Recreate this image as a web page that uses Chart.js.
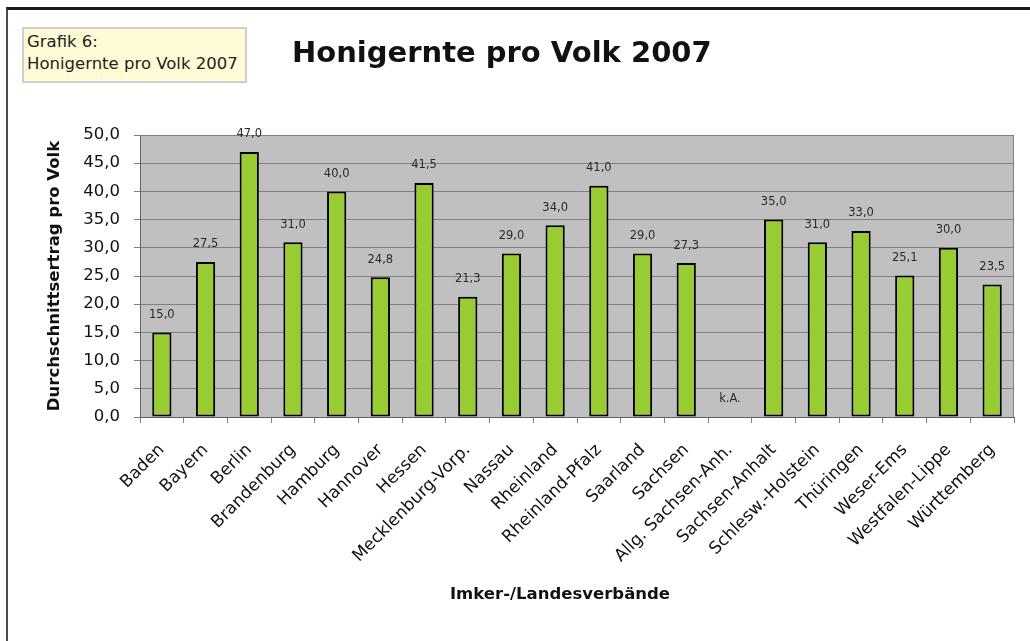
<!DOCTYPE html>
<html>
<head>
<meta charset="utf-8">
<script src="https://cdn.jsdelivr.net/npm/chart.js@4.4.1/dist/chart.umd.min.js"></script>
<style>
  html, body { margin: 0; padding: 0; background: #fff; }
  body { width: 1030px; height: 641px; position: relative; overflow: hidden; font-family: "DejaVu Sans", sans-serif; }
  #frame { position: absolute; left: 6px; top: 7px; right: -10px; bottom: -10px;
           border-top: 3px solid #1a1a1a; border-left: 2px solid #4a4a4a; }
  #chart { position: absolute; left: 0; top: 0; }
  #box { position: absolute; left: 22px; top: 27px; width: 218px; height: 50px;
         border: 2px solid #cfcfcf; background: #fffbd6; color: #222;
         font-size: 16.5px; line-height: 22px; padding: 2px 0 0 3px; white-space: nowrap; }
  #title { position: absolute; left: 292px; top: 38px; font-weight: bold; font-size: 29px;
           line-height: 29px; color: #111; white-space: nowrap; }
  #xtitle { position: absolute; left: 0; width: 1120px; top: 584px; text-align: center;
            font-weight: bold; font-size: 16.5px; line-height: 20px; color: #111; white-space: nowrap; }
</style>
</head>
<body>
<div id="frame"></div>
<canvas id="chart" width="1030" height="641"></canvas>
<div id="box">Grafik 6:<br>Honigernte pro Volk 2007</div>
<div id="title">Honigernte pro Volk 2007</div>
<div id="xtitle">Imker-/Landesverbände</div>
<script>
const categories = [
  'Baden', 'Bayern', 'Berlin', 'Brandenburg', 'Hamburg', 'Hannover', 'Hessen',
  'Mecklenburg-Vorp.', 'Nassau', 'Rheinland', 'Rheinland-Pfalz', 'Saarland', 'Sachsen',
  'Allg. Sachsen-Anh.', 'Sachsen-Anhalt', 'Schlesw.-Holstein', 'Thüringen', 'Weser-Ems',
  'Westfalen-Lippe', 'Württemberg'
];
const honeyPerColony = [15.0, 27.5, 47.0, 31.0, 40.0, 24.8, 41.5, 21.3, 29.0, 34.0,
                        41.0, 29.0, 27.3, null, 35.0, 31.0, 33.0, 25.1, 30.0, 23.5];
const yMin = 0, yMax = 50, yStep = 5;
const missingText = 'k.A.';
const yAxisTitle = 'Durchschnittsertrag pro Volk';

const FONT = '"DejaVu Sans", sans-serif';
const fmt = v => Number(v).toFixed(1).replace('.', ',');

const plotBackground = {
  id: 'plotBackground',
  beforeDraw(chart) {
    const { ctx, chartArea: a } = chart;
    ctx.save();
    ctx.fillStyle = '#c0c0c0';
    ctx.fillRect(a.left, a.top, a.right - a.left, a.bottom - a.top);
    ctx.restore();
  },
  beforeDatasetsDraw(chart) {
    const { ctx, chartArea: a } = chart;
    ctx.save();
    ctx.strokeStyle = '#808080';
    ctx.lineWidth = 1;
    ctx.beginPath();
    ctx.moveTo(a.right - 0.5, a.top);
    ctx.lineTo(a.right - 0.5, a.bottom);
    ctx.stroke();
    ctx.restore();
  }
};

const valueLabels = {
  id: 'valueLabels',
  afterDatasetsDraw(chart) {
    const { ctx } = chart;
    const xs = chart.scales.x, ys = chart.scales.y;
    const meta = chart.getDatasetMeta(0);
    ctx.save();
    ctx.font = '11.5px ' + FONT;
    ctx.fillStyle = '#2a2a2a';
    ctx.textAlign = 'center';
    ctx.textBaseline = 'middle';
    honeyPerColony.forEach((v, i) => {
      const x = xs.getPixelForValue(i);
      if (v === null) {
        ctx.fillText(missingText, x, ys.getPixelForValue(0) - 17.5);
      } else {
        const el = meta.data[i];
        ctx.fillText(fmt(v), x, el.y - 17.5);
      }
    });
    ctx.restore();
  }
};

new Chart(document.getElementById('chart'), {
  type: 'bar',
  data: {
    labels: categories,
    datasets: [{
      data: honeyPerColony,
      backgroundColor: '#99cc33',
      borderColor: '#000000',
      borderWidth: 2,
      borderSkipped: false,
      categoryPercentage: 1.0,
      barPercentage: 0.44
    }]
  },
  options: {
    responsive: false,
    animation: false,
    devicePixelRatio: 1,
    layout: { padding: { left: 41, right: 16, top: 135, bottom: 0 } },
    plugins: { legend: { display: false }, tooltip: { enabled: false }, title: { display: false } },
    scales: {
      x: {
        offset: true,
        grid: { offset: true, drawOnChartArea: false, drawTicks: true, tickLength: 6, color: '#808080' },
        border: { color: '#606060', width: 1 },
        ticks: { autoSkip: false, minRotation: 45, maxRotation: 45, padding: 17,
                 color: '#111', font: { family: FONT, size: 17 } },
        afterFit(s) { s.height = 224; }
      },
      y: {
        min: yMin, max: yMax,
        ticks: { stepSize: yStep, callback: v => fmt(v), padding: 14,
                 color: '#111', font: { family: FONT, size: 16.5 } },
        grid: { color: '#808080', tickLength: 6, tickColor: '#808080' },
        border: { color: '#606060', width: 1 },
        title: { display: true, text: yAxisTitle, color: '#111',
                 font: { family: FONT, size: 16.5, weight: 'bold' }, padding: { top: 4, bottom: 4 } },
        afterFit(s) { s.width = 99; }
      }
    }
  },
  plugins: [plotBackground, valueLabels]
});
</script>
</body>
</html>
